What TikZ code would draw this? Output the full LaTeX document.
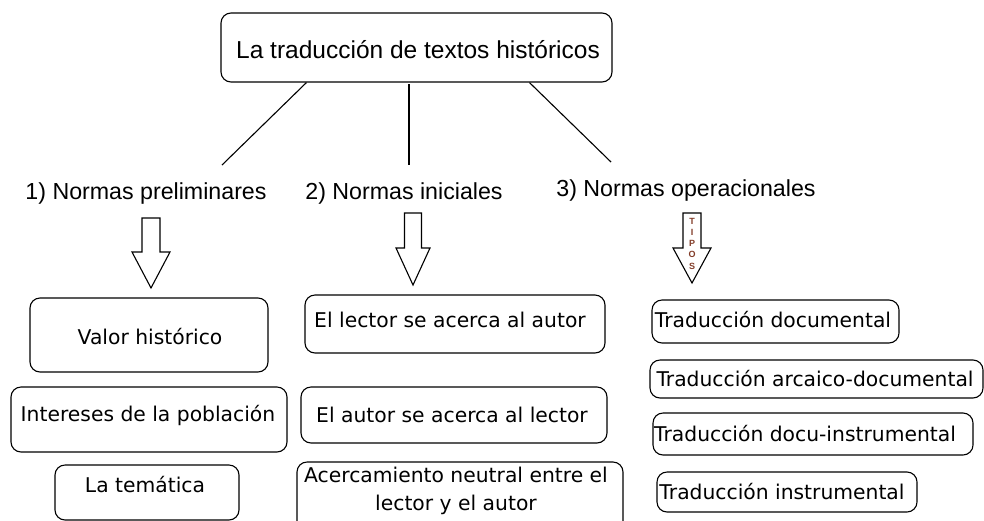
\documentclass[tikz,border=0pt]{standalone}
\usepackage{fontspec}
\setmainfont{Liberation Sans}
\newfontfamily\boxfont{DejaVu Sans}
\definecolor{tipcol}{RGB}{130,60,40}
\begin{document}
\begin{tikzpicture}[x=1pt,y=-1pt,
  line width=1.1pt,
  rbox/.style={draw=black, rounded corners=10pt, inner sep=0pt},
  title/.style={font=\fontsize{24.5}{28}\selectfont, inner sep=0pt},
  lab/.style={font=\fontsize{23.2}{27}\selectfont, inner sep=0pt},
  btxt/.style={font=\boxfont\fontsize{20.3}{28}\selectfont, inner sep=0pt, align=center},
  tip/.style={font=\bfseries\fontsize{9}{10}\selectfont, text=tipcol, inner sep=0pt},
  conn/.style={draw=black, line width=1.1pt},
  blk/.style={draw=black, line width=1.1pt, fill=white}
]
\useasboundingbox (0,0) rectangle (984,520);
\clip (0,0) rectangle (984,520);

% title
\node[rbox, minimum width=391pt, minimum height=69pt] (top) at (416.5,47.5) {};
\node[title] (toptxt) at (418,50) {La traducción de textos históricos};

% connector end points
\coordinate (e1) at (222,165);
\coordinate (e2) at (409,165);
\coordinate (e3) at (611,162);
\draw[conn] (top.south west)++(86,0) coordinate (s1) -- (e1);
\draw[conn] (409,84) coordinate (s2) -- (e2);
\draw[conn] (top.south west)++(309,0) coordinate (s3) -- (e3);

% category labels
\node[lab] (n1) at (146,193) {1) Normas preliminares};
\node[lab] (n2) at (404,193) {2) Normas iniciales};
\node[lab] (n3) at (686,190) {3) Normas operacionales};

% block arrows
\newcommand\blockarrow[7]{% cx, top, half shaft, half head, head y, tip y, name
  \coordinate (#7) at (#1,#6);
  \draw[blk] (#1-#3,#2) -- (#1+#3,#2) -- (#1+#3,#5) -- (#1+#4,#5) -- (#7)
    -- (#1-#4,#5) -- (#1-#3,#5) -- cycle;}
\blockarrow{151}{218}{9}{19}{252}{288}{a1}
\blockarrow{413}{213}{8.5}{17}{248}{285}{a2}
\blockarrow{692}{213}{9}{19}{248}{283}{a3}

% TIPOS
\node[tip] (tT) at (692,221) {T};
\node[tip] (tI) at (692,232) {I};
\node[tip] (tP) at (692,243) {P};
\node[tip] (tO) at (692,254) {O};
\node[tip] (tS) at (692,266) {S};

% column 1
\node[rbox, minimum width=238pt, minimum height=74pt] (b11) at (149,335) {};
\node[btxt] (t11) at (150,337) {Valor histórico};
\node[rbox, minimum width=276pt, minimum height=65pt] (b12) at (149,419.5) {};
\node[btxt] (t12) at (148,415) {Intereses de la población};
\node[rbox, minimum width=184pt, minimum height=55pt] (b13) at (147,492.5) {};
\node[btxt] (t13) at (145,485) {La temática};

% column 2
\node[rbox, minimum width=300pt, minimum height=58pt] (b21) at (455,324) {};
\node[btxt] (t21) at (450,320) {El lector se acerca al autor};
\node[rbox, minimum width=306pt, minimum height=56pt] (b22) at (454,415) {};
\node[btxt] (t22) at (452,415) {El autor se acerca al lector};
\node[rbox, minimum width=326pt, minimum height=76pt] (b23) at (460,500) {};
\node[btxt] (t23) at (456,491) {Acercamiento neutral entre el\\lector y el autor};

% column 3
\node[rbox, minimum width=247pt, minimum height=43pt] (b31) at (775.5,321.5) {};
\node[btxt] (t31) at (773,320) {Traducción documental};
\node[rbox, minimum width=333pt, minimum height=38pt] (b32) at (816.5,379) {};
\node[btxt] (t32) at (815,379) {Traducción arcaico-documental};
\node[rbox, minimum width=320pt, minimum height=42pt] (b33) at (813,434) {};
\node[btxt] (t33) at (805,434) {Traducción docu-instrumental};
\node[rbox, minimum width=260pt, minimum height=40pt] (b34) at (787,492) {};
\node[btxt] (t34) at (782,492) {Traducción instrumental};
\end{tikzpicture}
\end{document}
